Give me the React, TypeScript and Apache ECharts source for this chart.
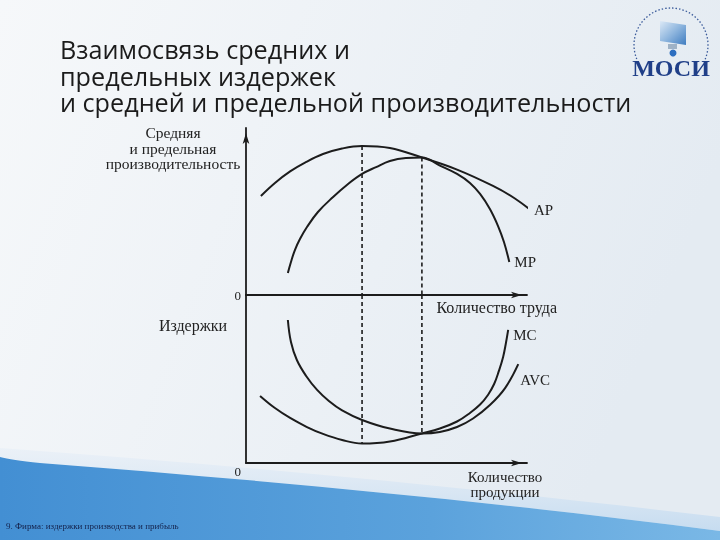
import React, { useEffect, useRef } from 'react';
import * as echarts from 'echarts';

// ---- texts ----
const titleLines = ['Взаимосвязь средних и', 'предельных издержек', 'и средней и предельной производительности'];
const footerText = '9. Фирма: издержки производства и прибыль';
const productivityAxisName = ['Средняя', 'и предельная', 'производительность'];
const costAxisName = 'Издержки';
const laborAxisName = 'Количество труда';
const outputAxisName = ['Количество', 'продукции'];
const zeroLabel = '0';
const logoText = 'МОСИ';

// ---- upper panel: labour (x 0..100) vs productivity (y 0..100) ----
const apPoints = [
  [5.3, 59.3], [10.3, 67.1], [15.7, 74.0], [21.0, 79.3], [27.4, 84.4], [34.2, 87.7], [41.3, 89.2],
  [51.2, 88.0], [62.6, 82.3], [75.1, 75.1], [87.9, 65.3], [95.7, 57.8], [102.5, 49.1],
];
const mpPoints = [
  [14.9, 13.2], [16.0, 19.8], [17.4, 26.9], [19.2, 33.5], [21.7, 40.7], [25.6, 49.7], [31.0, 58.7],
  [35.9, 65.9], [41.3, 72.5], [46.3, 76.6], [51.2, 80.2], [56.9, 82.0], [62.6, 82.3], [69.0, 77.5],
  [75.1, 72.5], [79.7, 67.1], [83.3, 60.5], [86.8, 51.5], [89.7, 41.3], [91.8, 31.7], [93.7, 19.8],
];

// ---- lower panel: output (x 0..100) vs costs (y 0..100) ----
const mcPoints = [
  [5.0, 39.9], [10.3, 32.7], [15.7, 26.8], [21.7, 21.4], [27.4, 17.3], [34.2, 13.7], [41.3, 11.6],
  [51.2, 12.8], [62.6, 17.6], [69.0, 20.5], [75.1, 24.7], [79.7, 29.8], [83.3, 34.8], [86.1, 40.5],
  [88.3, 47.0], [90.0, 54.8], [91.5, 63.1], [92.5, 71.4], [93.3, 79.2],
];
const avcPoints = [
  [14.9, 85.1], [16.0, 72.0], [18.1, 61.3], [21.4, 51.8], [25.3, 43.5], [29.5, 36.9], [34.2, 31.3],
  [41.3, 25.6], [51.2, 20.5], [62.6, 17.6], [69.0, 18.5], [75.1, 21.4], [80.8, 26.5], [86.8, 34.5],
  [92.2, 44.6], [96.9, 58.9],
];

const seriesNames = ['AP', 'MP', 'MC', 'AVC'];

const maxPt = (p: number[][]) => p.reduce((a, b) => (b[1] > a[1] ? b : a));
const minPt = (p: number[][]) => p.reduce((a, b) => (b[1] < a[1] ? b : a));

const SWOOSH = 'M0 457 C 8 459 20 461 40 463 C 260 480 480 500 720 531 L 720 540 L 0 540 Z';
const BAND = 'M0 448 C 260 467 480 489 720 517 L 720 531 C 480 500 260 480 40 463 C 20 461 8 459 0 457 Z';
echarts.graphic.registerShape('swooshShape', echarts.graphic.extendPath(SWOOSH, {}) as any);
echarts.graphic.registerShape('bandShape', echarts.graphic.extendPath(BAND, {}) as any);

const INK = '#1c1c1c';
const SERIF = '"Liberation Serif", "DejaVu Serif", serif';
const LABEL_SIZE = 16;

export default function App() {
  const ref = useRef<HTMLDivElement>(null);
  useEffect(() => {
    const chart = echarts.init(ref.current!, null, { renderer: 'svg' });
    const apPeak = maxPt(apPoints);
    const mpPeak = maxPt(mpPoints);
    const mcMin = minPt(mcPoints);
    const avcMin = minPt(avcPoints);

    const curve = (name: string, data: number[][], idx: number, label: any) => ({
      type: 'line',
      name,
      xAxisIndex: idx,
      yAxisIndex: idx,
      data,
      smooth: 0.4,
      symbol: 'none',
      clip: false,
      silent: true,
      lineStyle: { color: INK, width: 2 },
      endLabel: {
        show: true,
        formatter: name,
        color: '#222',
        fontFamily: SERIF,
        fontSize: 15,
        ...label,
      },
    });
    const dashed = (data: number[][], idx: number) => ({
      type: 'line',
      xAxisIndex: idx,
      yAxisIndex: idx,
      data,
      symbol: 'none',
      silent: true,
      clip: false,
      lineStyle: { color: INK, width: 1.6, type: [4, 3] },
    });

    const axisLine = (arrow: boolean) => ({
      show: true,
      onZero: false,
      symbol: arrow ? ['none', 'arrow'] : ['none', 'none'],
      symbolSize: [5, 11],
      symbolOffset: [0, -5],
      lineStyle: { color: INK, width: 1.8 },
    });

    const option: any = {
      animation: false,
      backgroundColor: 'transparent',
      grid: [
        { left: 246, top: 128, width: 281, height: 167 },
        { left: 246, top: 295, width: 281, height: 168 },
      ],
      xAxis: [
        {
          type: 'value', gridIndex: 0, min: 0, max: 100,
          axisLine: axisLine(true), axisTick: { show: false }, axisLabel: { show: false }, splitLine: { show: false },
          name: laborAxisName, nameLocation: 'end', nameGap: 30,
          nameTextStyle: { align: 'right', verticalAlign: 'top', padding: [4, 0, 0, 0], color: '#222', fontFamily: SERIF, fontSize: LABEL_SIZE },
        },
        {
          type: 'value', gridIndex: 1, min: 0, max: 100,
          axisLine: axisLine(true), axisTick: { show: false }, axisLabel: { show: false }, splitLine: { show: false },
          name: outputAxisName.join('\n'), nameLocation: 'end', nameGap: -22,
          nameTextStyle: { align: 'center', verticalAlign: 'top', padding: [6, 0, 0, 0], lineHeight: 15, color: '#222', fontFamily: SERIF, fontSize: 15 },
        },
      ],
      yAxis: [
        {
          type: 'value', gridIndex: 0, min: 0, max: 100, interval: 100,
          axisLine: axisLine(true), axisTick: { show: false }, splitLine: { show: false },
          axisLabel: { formatter: (v: number) => (v === 0 ? zeroLabel : ''), margin: 5, color: '#222', fontFamily: SERIF, fontSize: 13, padding: [0, 0, 3, 0] },
        },
        {
          type: 'value', gridIndex: 1, min: 0, max: 100, interval: 100,
          axisLine: axisLine(false), axisTick: { show: false }, splitLine: { show: false },
          axisLabel: { formatter: (v: number) => (v === 0 ? zeroLabel : ''), margin: 5, color: '#222', fontFamily: SERIF, fontSize: 13, verticalAlign: 'top', padding: [2, 0, 0, 0] },
        },
      ],
      series: [
        curve(seriesNames[0], apPoints, 0, { distance: 4, offset: [2, 2] }),
        curve(seriesNames[1], mpPoints, 0, { distance: 5, offset: [0, 0] }),
        curve(seriesNames[2], mcPoints, 1, { distance: 5, offset: [0, 5] }),
        curve(seriesNames[3], avcPoints, 1, { distance: 2, offset: [0, 16] }),
        dashed([[apPeak[0], apPeak[1]], [apPeak[0], 0]], 0),
        dashed([[mpPeak[0], mpPeak[1]], [mpPeak[0], 0]], 0),
        dashed([[mcMin[0], 100], [mcMin[0], mcMin[1]]], 1),
        dashed([[avcMin[0], 100], [avcMin[0], avcMin[1]]], 1),
      ],
      graphic: [
        {
          type: 'rect', z: -20, silent: true,
          shape: { x: 0, y: 0, width: 720, height: 540 },
          style: {
            fill: new echarts.graphic.LinearGradient(0, 0, 1, 0.3, [
              { offset: 0, color: '#f6f8fa' },
              { offset: 1, color: '#e4ebf2' },
            ]),
          },
        },
        {
          type: 'bandShape', z: -15, silent: true, x: 0, y: 0,
          style: {
            fill: new echarts.graphic.LinearGradient(0, 0, 0, 1, [
              { offset: 0, color: 'rgba(230,238,247,0.6)' },
              { offset: 1, color: '#c6dcf0' },
            ]),
          },
        },
        {
          type: 'swooshShape', z: -14, silent: true, x: 0, y: 0,
          style: {
            fill: new echarts.graphic.LinearGradient(0, 0, 1, 0, [
              { offset: 0, color: '#438fd3' },
              { offset: 0.6, color: '#5ba2dc' },
              { offset: 1, color: '#7ab8e6' },
            ]),
          },
        },
        {
          type: 'text', z: 10, silent: true,
          style: {
            text: titleLines.join('\n'), x: 60, y: 35.75, lineHeight: 26.5,
            fill: '#1b1b1b', fontFamily: '"Open Sans", "Noto Sans", sans-serif', fontSize: 25.2,
            verticalAlign: 'top', align: 'left',
          },
        },
        {
          type: 'text', z: 10, silent: true,
          style: { text: productivityAxisName.join('\n'), x: 173, y: 125, align: 'center', verticalAlign: 'top', lineHeight: 15.5, fill: '#222', fontFamily: SERIF, fontSize: 15.5 },
        },
        {
          type: 'text', z: 10, silent: true,
          style: { text: costAxisName, x: 193, y: 325, align: 'center', verticalAlign: 'middle', fill: '#222', fontFamily: SERIF, fontSize: LABEL_SIZE },
        },
        {
          type: 'text', z: 10, silent: true,
          style: { text: footerText, x: 6, y: 526, align: 'left', verticalAlign: 'middle', fill: '#14214a', fontFamily: SERIF, fontSize: 9 },
        },
        // logo
        {
          type: 'arc', z: 5, silent: true,
          shape: { cx: 671, cy: 45, r: 37, startAngle: 2.75, endAngle: 6.68, clockwise: true },
          style: { stroke: '#3a5a9a', lineWidth: 1.3, lineDash: [1.5, 2], fill: 'none' },
        },
        {
          type: 'polygon', z: 5, silent: true,
          shape: { points: [[660, 21], [686, 25], [686, 45], [660, 41]] },
          style: {
            fill: new echarts.graphic.LinearGradient(0, 0, 1, 1, [
              { offset: 0, color: '#dce9f6' },
              { offset: 0.5, color: '#8fb6de' },
              { offset: 1, color: '#3f7cc0' },
            ]),
          },
        },
        { type: 'rect', z: 5, silent: true, shape: { x: 668, y: 44, width: 9, height: 5 }, style: { fill: '#9fb2c6' } },
        { type: 'circle', z: 5, silent: true, shape: { cx: 673, cy: 53, r: 3.5 }, style: { fill: '#2d6fc0' } },
        {
          type: 'text', z: 10, silent: true,
          style: { text: logoText, x: 671, y: 68, align: 'center', verticalAlign: 'middle', fill: '#203f88', fontFamily: SERIF, fontWeight: 'bold', fontSize: 24 },
        },
      ],
    };
    chart.setOption(option);
    return () => chart.dispose();
  }, []);
  return <div ref={ref} style={{ position: 'fixed', left: 0, top: 0, width: 720, height: 540 }} />;
}
